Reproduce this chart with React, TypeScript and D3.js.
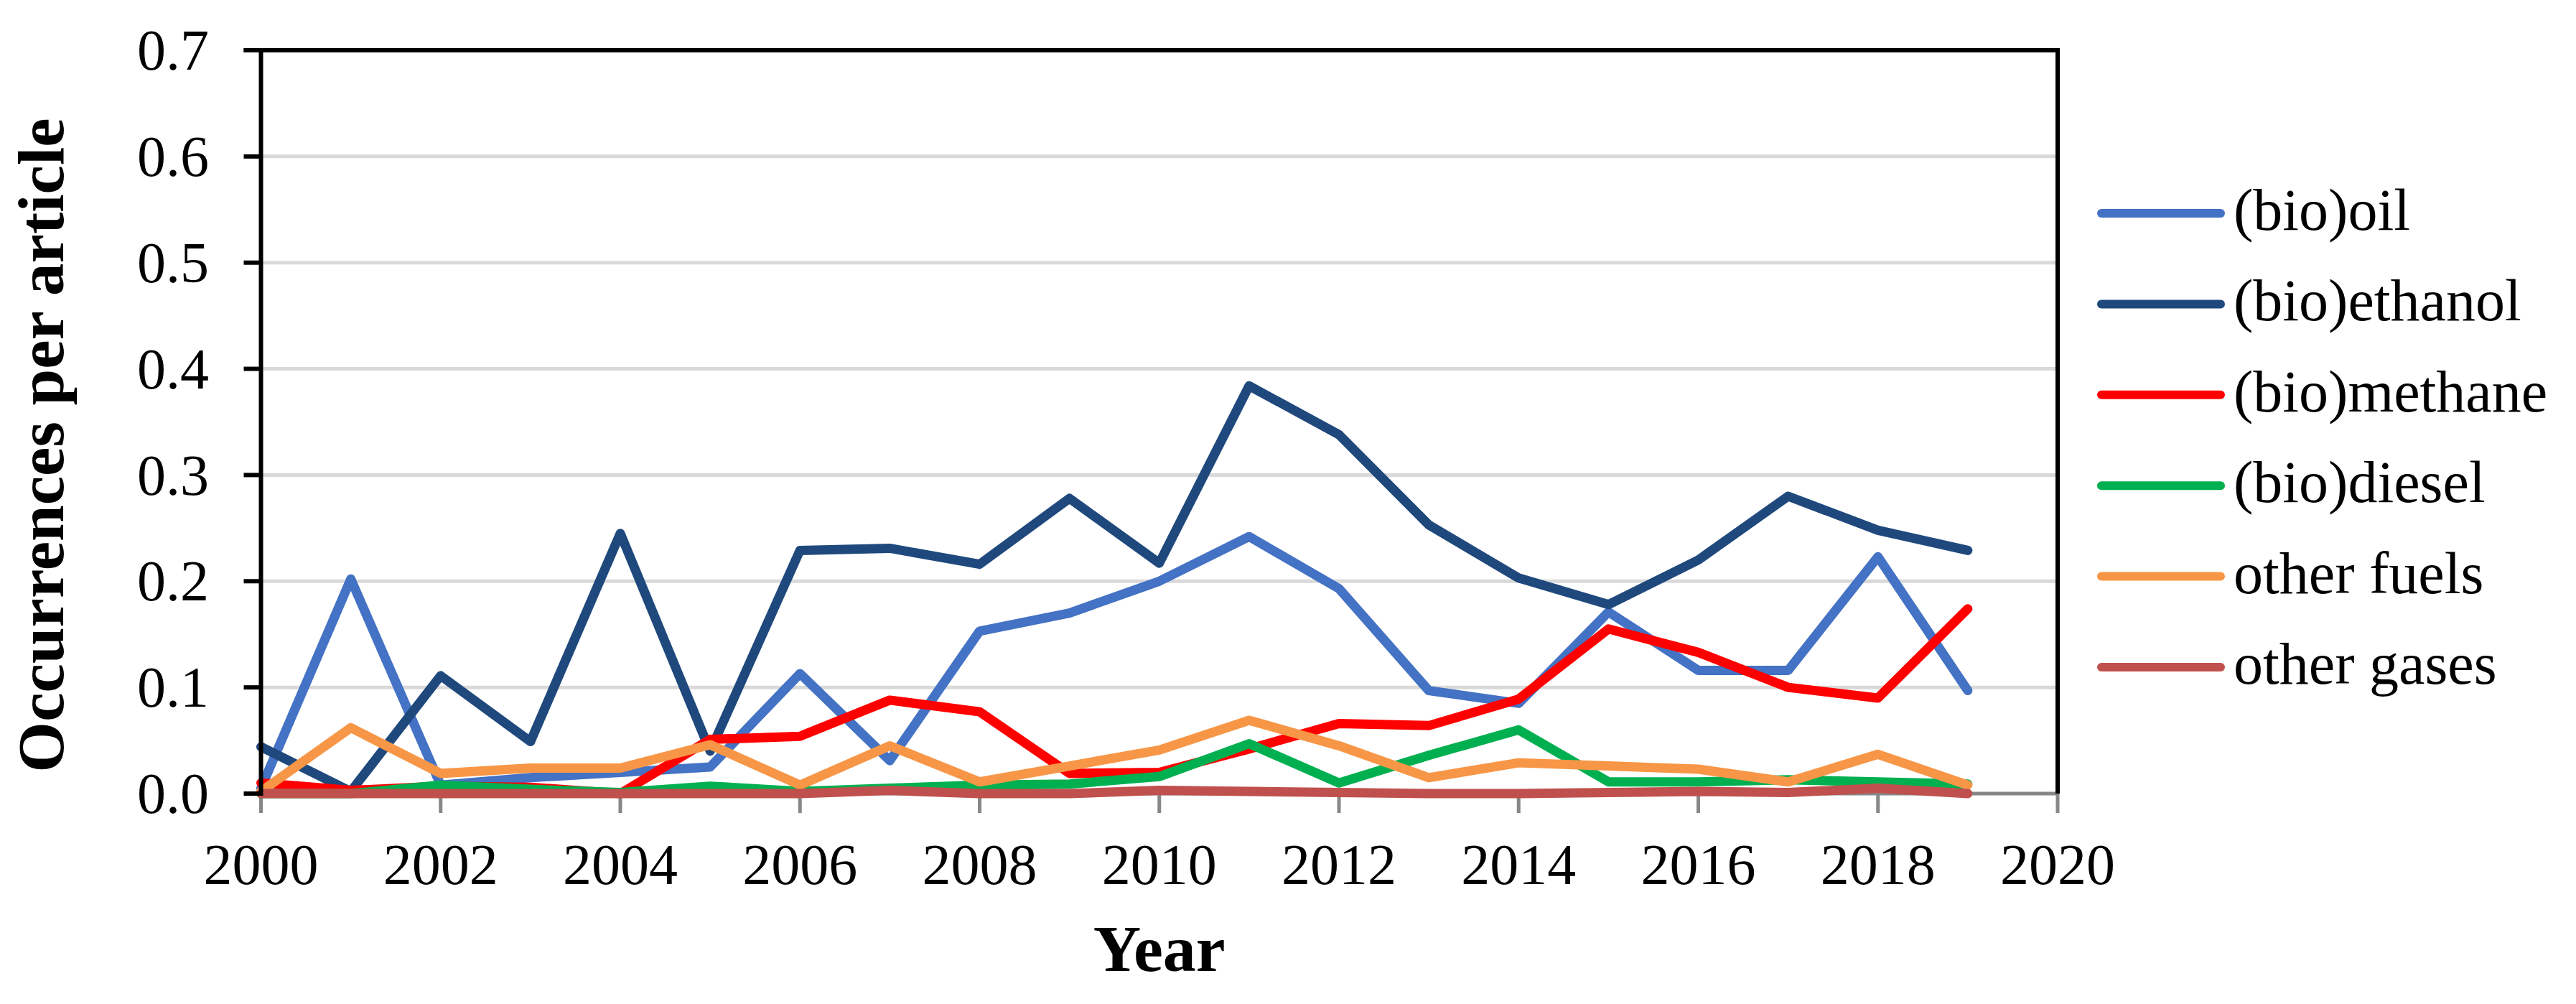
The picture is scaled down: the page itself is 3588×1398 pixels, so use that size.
import React from 'react';
import * as d3 from 'd3';

const years = [2000, 2001, 2002, 2003, 2004, 2005, 2006, 2007, 2008, 2009, 2010, 2011, 2012, 2013, 2014, 2015, 2016, 2017, 2018, 2019];

const bioOil = [0.005, 0.202, 0.008, 0.015, 0.02, 0.025, 0.113, 0.031, 0.153, 0.17, 0.2, 0.242, 0.193, 0.097, 0.085, 0.171, 0.116, 0.116, 0.223, 0.097];
const bioEthanol = [0.044, 0.002, 0.111, 0.049, 0.245, 0.04, 0.229, 0.231, 0.216, 0.278, 0.217, 0.384, 0.338, 0.253, 0.203, 0.178, 0.22, 0.28, 0.248, 0.229];
const bioMethane = [0.01, 0.003, 0.007, 0.006, 0.0, 0.051, 0.054, 0.088, 0.077, 0.019, 0.02, 0.042, 0.066, 0.064, 0.089, 0.155, 0.133, 0.1, 0.09, 0.174];
const bioDiesel = [0.0, 0.0, 0.008, 0.004, 0.001, 0.007, 0.002, 0.005, 0.008, 0.009, 0.016, 0.047, 0.01, 0.036, 0.06, 0.011, 0.011, 0.013, 0.011, 0.009];
const otherFuels = [0.002, 0.062, 0.019, 0.024, 0.024, 0.046, 0.008, 0.045, 0.011, 0.026, 0.041, 0.069, 0.045, 0.015, 0.029, 0.026, 0.023, 0.011, 0.037, 0.008];
const otherGases = [0, 0, 0, 0, 0, 0, 0, 0.003, 0, 0, 0.003, 0.002, 0.001, 0, 0, 0.001, 0.002, 0.001, 0.005, 0];

const seriesNames = ['(bio)oil', '(bio)ethanol', '(bio)methane', '(bio)diesel', 'other fuels', 'other gases'];
const seriesColors = ['#4472C4', '#1F497D', '#FF0000', '#00B050', '#F79646', '#C0504D'];
const seriesValues = [bioOil, bioEthanol, bioMethane, bioDiesel, otherFuels, otherGases];

const yTicks = [0, 0.1, 0.2, 0.3, 0.4, 0.5, 0.6, 0.7];
const xTicks = [2000, 2002, 2004, 2006, 2008, 2010, 2012, 2014, 2016, 2018, 2020];

const W = 3588;
const H = 1398;
const font = "'Times New Roman', 'Liberation Serif', serif";

export default function App() {
  const left = 363.5, right = 2866, top = 70, bottom = 1105;
  const x = d3.scaleLinear().domain([2000, 2020]).range([left, right]);
  const y = d3.scaleLinear().domain([0, 0.7]).range([bottom, top]);
  const fmt = d3.format('.1f');

  const line = d3.line<number>()
    .x((_, i) => x(years[i]))
    .y(d => y(d));

  return (
    <svg width={W} height={H} style={{ position: 'absolute', left: 0, top: 0, background: '#fff' }}>
      {/* gridlines */}
      {yTicks.filter(t => t > 0 && t < 0.7).map(t => (
        <line key={'g' + t} x1={left} x2={right} y1={y(t)} y2={y(t)} stroke="#D9D9D9" strokeWidth={5} />
      ))}

      {/* x axis (gray) */}
      <line x1={left} x2={right} y1={bottom} y2={bottom} stroke="#878787" strokeWidth={5} />
      {xTicks.map(t => (
        <line key={'xt' + t} x1={x(t)} x2={x(t)} y1={bottom} y2={bottom + 27} stroke="#878787" strokeWidth={5} />
      ))}
      {xTicks.map(t => (
        <text key={'xl' + t} x={x(t)} y={1231} textAnchor="middle" fontFamily={font} fontSize={80} fill="#000">{t}</text>
      ))}

      {/* series */}
      {seriesValues.map((vals, i) => (
        <path key={seriesNames[i]} d={line(vals) || ''} fill="none" stroke={seriesColors[i]}
          strokeWidth={13} strokeLinejoin="round" strokeLinecap="round" />
      ))}

      {/* frame: left axis, top, right */}
      <line x1={left} x2={left} y1={top - 3} y2={bottom + 3} stroke="#000" strokeWidth={6} />
      <line x1={left - 24} x2={right + 3} y1={top} y2={top} stroke="#000" strokeWidth={6} />
      <line x1={right} x2={right} y1={top} y2={bottom} stroke="#000" strokeWidth={6} />
      {yTicks.map(t => (
        <line key={'yt' + t} x1={left - 24} x2={left} y1={y(t)} y2={y(t)} stroke="#000" strokeWidth={6} />
      ))}
      {yTicks.map(t => (
        <text key={'yl' + t} x={291} y={y(t)} dy="0.34em" textAnchor="end" fontFamily={font} fontSize={80} fill="#000">{fmt(t)}</text>
      ))}

      {/* axis titles */}
      <text x={(left + right) / 2} y={1352} textAnchor="middle" fontFamily={font} fontSize={92} fontWeight="bold">Year</text>
      <text transform={`translate(88, 620) rotate(-90)`} textAnchor="middle" fontFamily={font} fontSize={91} fontWeight="bold">Occurrences per article</text>

      {/* legend */}
      {seriesNames.map((name, i) => {
        const ly = 297 + i * 126.4;
        return (
          <g key={'lg' + name}>
            <line x1={2927} x2={3093} y1={ly} y2={ly} stroke={seriesColors[i]} strokeWidth={12} strokeLinecap="round" />
            <text x={3111} y={ly + 23} fontFamily={font} fontSize={82} fill="#000">{name}</text>
          </g>
        );
      })}
    </svg>
  );
}
